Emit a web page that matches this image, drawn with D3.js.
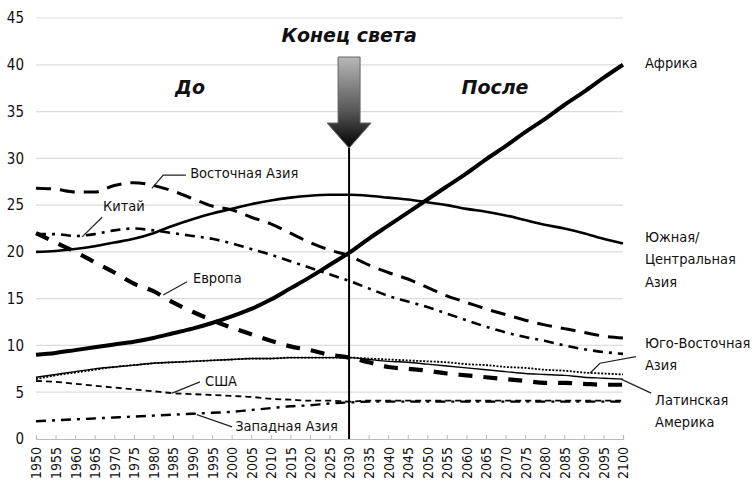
<!DOCTYPE html>
<html>
<head>
<meta charset="utf-8">
<script src="https://cdnjs.cloudflare.com/ajax/libs/d3/7.8.5/d3.min.js"></script>
<style>
  body { margin: 0; background: #fff; }
  text { font-family: "DejaVu Sans Condensed", "DejaVu Sans", sans-serif; fill: #111; }
</style>
</head>
<body>
<div id="chart"></div>
<script>
// years on the x axis
var years = [1950, 1955, 1960, 1965, 1970, 1975, 1980, 1985, 1990, 1995,
             2000, 2005, 2010, 2015, 2020, 2025, 2030, 2035, 2040, 2045,
             2050, 2055, 2060, 2065, 2070, 2075, 2080, 2085, 2090, 2095, 2100];
var yTicks = [0, 5, 10, 15, 20, 25, 30, 35, 40, 45];

// share of world population, %
var africa     = [9.0, 9.2, 9.5, 9.8, 10.1, 10.4, 10.8, 11.3, 11.8, 12.4, 13.1, 13.9, 14.9, 16.1, 17.3, 18.6,
                  19.9, 21.4, 22.8, 24.2, 25.6, 27.0, 28.4, 29.9, 31.3, 32.8, 34.2, 35.7, 37.1, 38.6, 40.0];
var southAsia  = [20.0, 20.1, 20.3, 20.6, 21.0, 21.4, 22.0, 22.8, 23.5, 24.1, 24.6, 25.1, 25.5, 25.8, 26.0, 26.1,
                  26.1, 26.0, 25.8, 25.6, 25.3, 25.0, 24.6, 24.3, 23.9, 23.4, 22.9, 22.5, 22.0, 21.4, 20.9];
var eastAsia   = [26.8, 26.7, 26.4, 26.4, 27.1, 27.4, 27.1, 26.5, 25.7, 24.9, 24.5, 23.7, 23.0, 22.0, 21.0, 20.2,
                  19.6, 18.6, 17.8, 17.1, 16.2, 15.3, 14.6, 13.9, 13.3, 12.7, 12.2, 11.8, 11.4, 11.0, 10.8];
var china      = [21.9, 21.9, 21.7, 21.9, 22.3, 22.5, 22.3, 22.0, 21.7, 21.4, 20.9, 20.3, 19.7, 19.0, 18.3, 17.6,
                  16.9, 16.1, 15.3, 14.7, 14.1, 13.4, 12.7, 12.0, 11.4, 10.9, 10.5, 10.0, 9.6, 9.3, 9.1];
var europe     = [22.0, 21.0, 20.0, 18.9, 17.8, 16.6, 15.8, 14.6, 13.6, 12.7, 11.9, 11.2, 10.5, 9.9, 9.5, 9.0,
                  8.7, 8.2, 7.7, 7.5, 7.3, 7.0, 6.8, 6.6, 6.4, 6.2, 6.0, 6.0, 5.9, 5.8, 5.8];
var seAsia     = [6.4, 6.8, 7.1, 7.4, 7.7, 7.9, 8.1, 8.2, 8.3, 8.4, 8.5, 8.6, 8.6, 8.7, 8.7, 8.7,
                  8.7, 8.6, 8.5, 8.4, 8.3, 8.2, 8.0, 7.9, 7.7, 7.6, 7.4, 7.3, 7.1, 7.0, 6.9];
var latAmerica = [6.6, 6.9, 7.2, 7.5, 7.7, 7.9, 8.1, 8.2, 8.3, 8.4, 8.5, 8.6, 8.6, 8.7, 8.7, 8.7,
                  8.7, 8.5, 8.3, 8.2, 8.0, 7.8, 7.6, 7.4, 7.2, 7.0, 6.9, 6.8, 6.6, 6.5, 6.4];
var usa        = [6.2, 6.1, 5.9, 5.7, 5.5, 5.3, 5.1, 4.9, 4.8, 4.7, 4.6, 4.5, 4.3, 4.2, 4.1, 4.1,
                  4.0, 4.1, 4.1, 4.1, 4.1, 4.1, 4.1, 4.1, 4.1, 4.1, 4.1, 4.1, 4.1, 4.1, 4.1];
var westAsia   = [1.9, 2.0, 2.1, 2.2, 2.3, 2.4, 2.5, 2.6, 2.7, 2.8, 2.9, 3.1, 3.3, 3.5, 3.6, 3.8,
                  3.9, 4.0, 4.0, 4.0, 4.0, 4.0, 4.0, 4.0, 4.0, 4.0, 4.0, 4.0, 4.0, 4.0, 4.0];

var endYear = 2030;

// set the dimensions and margins of the graph
var margin = {top: 18, right: 131, bottom: 47, left: 36},
    width = 754 - margin.left - margin.right,
    height = 486 - margin.top - margin.bottom;

var svg = d3.select("#chart")
  .append("svg")
    .attr("width", 754)
    .attr("height", 486);

var chart = svg.append("g")
    .attr("transform", "translate(" + margin.left + "," + margin.top + ")");

var xScale = d3.scaleLinear().domain([1950, 2100]).range([0, width]);
var yScale = d3.scaleLinear().domain([0, 45]).range([height, 0]);

// grid
chart.append("g")
  .selectAll("line")
  .data(yTicks.filter(function(d) { return d > 0; }))
  .enter().append("line")
    .attr("x1", 0).attr("x2", width)
    .attr("y1", function(d) { return yScale(d); })
    .attr("y2", function(d) { return yScale(d); })
    .attr("stroke", "#dcdcdc")
    .attr("stroke-width", 1.2);

// y axis labels
var yAxis = chart.append("g")
    .call(d3.axisLeft(yScale).tickValues(yTicks).tickSize(0).tickPadding(12));
yAxis.select(".domain").remove();
yAxis.selectAll("text")
    .style("font-size", "15px")
    .style("font-family", "'DejaVu Sans Condensed', 'DejaVu Sans', sans-serif")
    .attr("fill", "#222");

// x axis
var xAxis = chart.append("g")
    .attr("transform", "translate(0," + height + ")")
    .call(d3.axisBottom(xScale).tickValues(years).tickFormat(d3.format("d")).tickSize(-4).tickPadding(8));
xAxis.select(".domain").attr("stroke", "#bbb").attr("stroke-width", 1.2);
xAxis.selectAll(".tick line").attr("stroke", "#bbb");
xAxis.selectAll("text")
    .style("font-size", "14px")
    .style("font-family", "'DejaVu Sans Condensed', 'DejaVu Sans', sans-serif")
    .attr("fill", "#222")
    .attr("transform", "rotate(-90)")
    .attr("text-anchor", "end")
    .attr("x", -8)
    .attr("y", 0)
    .attr("dy", "0.35em");

var series = [
  {name: "africa",     values: africa,     width: 4,   dash: null},
  {name: "southAsia",  values: southAsia,  width: 2.6, dash: null},
  {name: "eastAsia",   values: eastAsia,   width: 3,   dash: "15,9"},
  {name: "china",      values: china,      width: 2.6, dash: "10,6,3,6"},
  {name: "europe",     values: europe,     width: 4.2, dash: "14,11"},
  {name: "latAmerica", values: latAmerica, width: 1.4, dash: null},
  {name: "seAsia",     values: seAsia,     width: 1.8, dash: "2,1.5"},
  {name: "usa",        values: usa,        width: 1.8, dash: "6,4"},
  {name: "westAsia",   values: westAsia,   width: 2.4, dash: "10,6,3,6"}
];

var line = d3.line()
    .x(function(d, i) { return xScale(years[i]); })
    .y(function(d) { return yScale(d); })
    .curve(d3.curveMonotoneX);

chart.selectAll(".series")
  .data(series)
  .enter().append("path")
    .attr("class", "series")
    .attr("fill", "none")
    .attr("stroke", "#000")
    .attr("stroke-linecap", "butt")
    .attr("stroke-width", function(d) { return d.width; })
    .attr("stroke-dasharray", function(d) { return d.dash; })
    .attr("d", function(d) { return line(d.values); });

// the 2030 marker
chart.append("line")
    .attr("x1", xScale(endYear)).attr("x2", xScale(endYear))
    .attr("y1", 129).attr("y2", height)
    .attr("stroke", "#000")
    .attr("stroke-width", 2);

var defs = svg.append("defs");
var grad = defs.append("linearGradient")
    .attr("id", "arrowGrad")
    .attr("x1", 0).attr("y1", 0).attr("x2", 0).attr("y2", 1);
grad.append("stop").attr("offset", "0%").attr("stop-color", "#b8b8b8");
grad.append("stop").attr("offset", "60%").attr("stop-color", "#555");
grad.append("stop").attr("offset", "100%").attr("stop-color", "#000");

var ax = xScale(endYear);
chart.append("path")
    .attr("d", "M" + (ax - 11) + ",39 L" + (ax + 11) + ",39 L" + (ax + 11) + ",105 L" + (ax + 22) + ",105 L" + ax + ",130 L" + (ax - 22) + ",105 L" + (ax - 11) + ",105 Z")
    .attr("fill", "url(#arrowGrad)")
    .attr("stroke", "#666")
    .attr("stroke-width", 1);

// headings
var headFont = "'DejaVu Sans', sans-serif";
chart.append("text")
    .attr("x", ax).attr("y", 17)
    .attr("text-anchor", "middle")
    .attr("dy", "0.35em")
    .style("font-family", headFont)
    .style("font-size", "19px")
    .style("font-weight", "bold")
    .style("font-style", "italic")
    .text("Конец света");
chart.append("text")
    .attr("x", 154).attr("y", 69)
    .attr("text-anchor", "middle")
    .attr("dy", "0.35em")
    .style("font-family", headFont)
    .style("font-size", "19px")
    .style("font-weight", "bold")
    .style("font-style", "italic")
    .text("До");
chart.append("text")
    .attr("x", 459).attr("y", 69)
    .attr("text-anchor", "middle")
    .attr("dy", "0.35em")
    .style("font-family", headFont)
    .style("font-size", "19px")
    .style("font-weight", "bold")
    .style("font-style", "italic")
    .text("После");

// series labels, placed in data units
var labels = [
  {lines: ["Африка"], year: 2105.6, value: 40.2},
  {lines: ["Южная/", "Центральная", "Азия"], year: 2105.6, value: 21.6},
  {lines: ["Юго-Восточная", "Азия"], year: 2105.6, value: 10.3},
  {lines: ["Латинская", "Америка"], year: 2108.2, value: 4.2},
  {lines: ["Восточная Азия"], year: 1989.4, value: 28.4},
  {lines: ["Китай"], year: 1967.1, value: 24.9},
  {lines: ["Европа"], year: 1990.1, value: 17.2},
  {lines: ["США"], year: 1993.2, value: 6.2},
  {lines: ["Западная Азия"], year: 2000.9, value: 1.4}
];
var leaders = [
  [[1979.6, 26.8], [1982.5, 28.2], [1988.3, 28.2]],
  [[1961.8, 21.6], [1966.9, 23.7]],
  [[1982.5, 15.4], [1988.6, 16.8]],
  [[1984.8, 4.9], [1991.9, 6.1]],
  [[1991.1, 2.6], [2000.1, 1.3]],
  [[2091.6, 7.05], [2094.1, 8.1], [2103.3, 8.8]],
  [[2099.5, 6.4], [2107.2, 4.9]]
];

var leaderLine = d3.line()
    .x(function(d) { return xScale(d[0]); })
    .y(function(d) { return yScale(d[1]); });

chart.selectAll(".leader")
  .data(leaders)
  .enter().append("path")
    .attr("class", "leader")
    .attr("fill", "none")
    .attr("stroke", "#222")
    .attr("stroke-width", 1.2)
    .attr("d", leaderLine);

labels.forEach(function(l) {
  var t = chart.append("text")
      .attr("x", xScale(l.year))
      .attr("y", yScale(l.value))
      .attr("dy", "0.35em")
      .style("font-size", "14.5px");
  l.lines.forEach(function(s, i) {
    t.append("tspan")
      .attr("x", xScale(l.year))
      .attr("dy", i == 0 ? "0.35em" : "1.55em")
      .text(s);
  });
});
</script>
</body>
</html>
